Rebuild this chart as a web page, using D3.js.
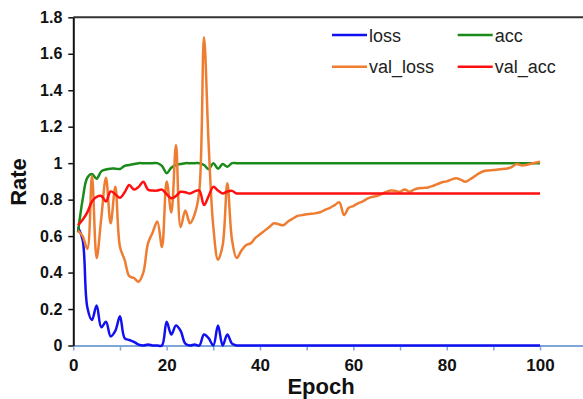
<!DOCTYPE html>
<html>
<head>
<meta charset="utf-8">
<script src="https://cdn.jsdelivr.net/npm/d3@7"></script>
<style>
  body { margin: 0; background: #fff; }
  text { font-family: "Liberation Sans", Arial, sans-serif; }
</style>
</head>
<body>
<script>
var width = 583,
    height = 399;

// epochs 1..100
var epochs = d3.range(1, 101);

var loss = [0.65, 0.58, 0.21, 0.14, 0.22, 0.10, 0.13, 0.05, 0.08, 0.16,
            0.04, 0.03, 0.02, 0.005, 0, 0.005, 0, 0, 0, 0.13,
            0.06, 0.11, 0.08, 0.01, 0, 0.005, 0, 0.06, 0.04, 0.0,
            0.11, 0.0, 0.06, 0.01, 0, 0, 0, 0, 0, 0,
            0, 0, 0, 0, 0, 0, 0, 0, 0, 0,
            0, 0, 0, 0, 0, 0, 0, 0, 0, 0,
            0, 0, 0, 0, 0, 0, 0, 0, 0, 0,
            0, 0, 0, 0, 0, 0, 0, 0, 0, 0,
            0, 0, 0, 0, 0, 0, 0, 0, 0, 0,
            0, 0, 0, 0, 0, 0, 0, 0, 0, 0];

var acc = [0.62, 0.80, 0.92, 0.94, 0.915, 0.955, 0.965, 0.97, 0.97, 0.968,
           0.985, 0.99, 0.995, 1, 1, 1, 1, 1, 0.985, 0.945,
           0.975, 0.99, 0.995, 1, 1, 1, 1, 0.99, 0.967, 1,
           0.97, 0.995, 0.98, 1, 1, 1, 1, 1, 1, 1,
           1, 1, 1, 1, 1, 1, 1, 1, 1, 1,
           1, 1, 1, 1, 1, 1, 1, 1, 1, 1,
           1, 1, 1, 1, 1, 1, 1, 1, 1, 1,
           1, 1, 1, 1, 1, 1, 1, 1, 1, 1,
           1, 1, 1, 1, 1, 1, 1, 1, 1, 1,
           1, 1, 1, 1, 1, 1, 1, 1, 1, 1];

var valLoss = [0.63, 0.60, 0.53, 0.93, 0.48, 0.70, 0.92, 0.67, 0.87, 0.54,
               0.47, 0.38, 0.37, 0.35, 0.40, 0.56, 0.62, 0.68, 0.54, 0.90,
               0.73, 1.10, 0.65, 0.74, 0.67, 0.72, 0.85, 1.69, 1.10, 0.65,
               0.47, 0.55, 0.89, 0.58, 0.48, 0.52, 0.55, 0.56, 0.59, 0.61,
               0.63, 0.65, 0.67, 0.665, 0.66, 0.68, 0.695, 0.71, 0.715, 0.72,
               0.722, 0.726, 0.732, 0.745, 0.755, 0.77, 0.785, 0.715, 0.755, 0.765,
               0.78, 0.79, 0.805, 0.815, 0.82, 0.83, 0.843, 0.85, 0.848, 0.843,
               0.856, 0.843, 0.855, 0.862, 0.864, 0.867, 0.875, 0.885, 0.895, 0.90,
               0.91, 0.917, 0.91, 0.898, 0.912, 0.928, 0.945, 0.957, 0.96, 0.962,
               0.965, 0.968, 0.971, 0.98, 0.995, 0.988, 0.99, 0.997, 1.003, 1.008];

var valAcc = [0.66, 0.69, 0.73, 0.79, 0.815, 0.82, 0.79, 0.845, 0.83, 0.81,
              0.84, 0.88, 0.855, 0.87, 0.898, 0.855, 0.85, 0.85, 0.855, 0.83,
              0.807, 0.82, 0.843, 0.84, 0.834, 0.845, 0.85, 0.77, 0.82, 0.87,
              0.85, 0.834, 0.845, 0.848, 0.834, 0.834, 0.834, 0.834, 0.834, 0.834,
              0.834, 0.834, 0.834, 0.834, 0.834, 0.834, 0.834, 0.834, 0.834, 0.834,
              0.834, 0.834, 0.834, 0.834, 0.834, 0.834, 0.834, 0.834, 0.834, 0.834,
              0.834, 0.834, 0.834, 0.834, 0.834, 0.834, 0.834, 0.834, 0.834, 0.834,
              0.834, 0.834, 0.834, 0.834, 0.834, 0.834, 0.834, 0.834, 0.834, 0.834,
              0.834, 0.834, 0.834, 0.834, 0.834, 0.834, 0.834, 0.834, 0.834, 0.834,
              0.834, 0.834, 0.834, 0.834, 0.834, 0.834, 0.834, 0.834, 0.834, 0.834];

var yTicks = [0, 0.2, 0.4, 0.6, 0.8, 1, 1.2, 1.4, 1.6, 1.8];
var xTicks = [0, 20, 40, 60, 80, 100];
var xMinorTicks = [10, 30, 50, 70, 90];

// drawn in this order, legend order too
var seriesNames = ["loss", "acc", "val_loss", "val_acc"];
var seriesValues = [loss, acc, valLoss, valAcc];
var colors = ["#1010f0", "#1a8a1a", "#ee7d32", "#ff1010"];

var svg = d3.select("body").append("svg")
    .attr("width", width)
    .attr("height", height);

var x = d3.scaleLinear().domain([0, 109.2]).range([73.3, 583]);
var y = d3.scaleLinear().domain([0, 1.8]).range([345.5, 17.3]);

// top border
svg.append("line")
    .attr("x1", x(0)).attr("x2", width)
    .attr("y1", y(1.8)).attr("y2", y(1.8))
    .attr("stroke", "#333").attr("stroke-width", 2);

// x axis
var xAxis = svg.append("g")
    .attr("transform", "translate(0," + y(0) + ")")
    .call(d3.axisBottom(x).tickValues(xTicks.concat(xMinorTicks))
      .tickSize(5).tickSizeOuter(0)
      .tickFormat(function(d) { return xTicks.indexOf(d) >= 0 ? d : ""; }));
xAxis.select(".domain").attr("stroke", "#7ea6d8").attr("stroke-width", 2);
xAxis.selectAll(".tick line").attr("stroke", "#7ea6d8").attr("stroke-width", 1.5);
xAxis.selectAll(".tick text")
    .attr("fill", "#111")
    .attr("dy", "1.05em")
    .style("font-size", "17px").style("font-weight", "bold");

// y axis
var yAxis = svg.append("g")
    .attr("transform", "translate(" + x(0) + ",0)")
    .call(d3.axisLeft(y).tickValues(yTicks).tickSize(5).tickSizeOuter(0)
      .tickFormat(function(d) { return d3.format("")(+d.toFixed(1)); }));
yAxis.select(".domain").attr("stroke", "#111").attr("stroke-width", 2);
yAxis.selectAll(".tick line").attr("stroke", "#111").attr("stroke-width", 1.5);
yAxis.selectAll(".tick text")
    .attr("fill", "#111")
    .attr("x", -11)
    .style("font-size", "16px").style("font-weight", "bold");

// lines
var line = d3.line()
    .x(function(d, i) { return x(epochs[i]); })
    .y(function(d) { return y(d); })
    .curve(d3.curveCatmullRom);

for (var i = 0; i < seriesValues.length; i++) {
  svg.append("path")
    .datum(seriesValues[i])
    .attr("d", line)
    .attr("fill", "none")
    .attr("stroke", colors[i])
    .attr("stroke-width", 2.5)
    .attr("stroke-linejoin", "round");
}

// axis titles
svg.append("text")
    .attr("x", 321).attr("y", 394)
    .attr("text-anchor", "middle")
    .style("font-size", "22px").style("font-weight", "bold")
    .attr("fill", "#111")
    .text("Epoch");

svg.append("text")
    .attr("transform", "translate(25.5,182) rotate(-90)")
    .attr("text-anchor", "middle")
    .style("font-size", "22px").style("font-weight", "bold")
    .attr("fill", "#111")
    .text("Rate");

// legend
var legendX = [332, 457.7];
var legendY = [35, 66.7];
for (var j = 0; j < seriesNames.length; j++) {
  var lx = legendX[j % 2], ly = legendY[Math.floor(j / 2)];
  svg.append("line")
    .attr("x1", lx).attr("x2", lx + 35)
    .attr("y1", ly).attr("y2", ly)
    .attr("stroke", colors[j]).attr("stroke-width", 2.5);
  svg.append("text")
    .attr("x", lx + 37).attr("y", ly + 6.5)
    .style("font-size", "18px")
    .attr("fill", "#222")
    .text(seriesNames[j]);
}
</script>
</body>
</html>
